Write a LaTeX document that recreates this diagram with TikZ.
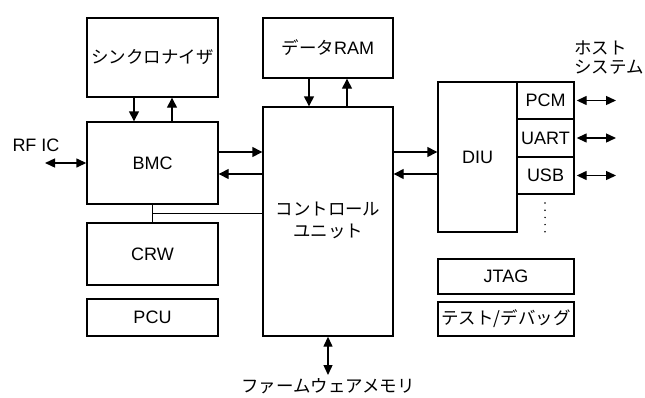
\documentclass[tikz,border=0pt]{standalone}
\usepackage{fontspec}
\setmainfont{Liberation Sans}
\newfontfamily\jp{Noto Sans CJK JP}[Scale=0.97]
\usetikzlibrary{arrows.meta,calc}
\tikzset{
  box/.style={draw,line width=1.4pt,inner sep=0pt,align=center,font=\fontsize{18}{21}\selectfont},
  lbl/.style={inner sep=0pt,align=left,font=\fontsize{18}{21}\selectfont},
  conn/.style={line width=1.4pt,-{Triangle[length=10pt,width=10pt]}},
  dconn/.style={line width=1.4pt,{Triangle[length=10pt,width=9pt]}-{Triangle[length=10pt,width=9pt]}},
  plain/.style={line width=1.4pt}
}
\begin{document}
\begin{tikzpicture}[x=1pt,y=-1pt]
\useasboundingbox (0,0) rectangle (645,397);
% left column
\node[box,minimum width=131pt,minimum height=79pt] (sync) at (152.5,57.5) {\jp シンクロナイザ};
\node[box,minimum width=131pt,minimum height=82pt] (bmc) at (152.5,163) {BMC};
\node[box,minimum width=131pt,minimum height=62pt] (crw) at (152.5,254) {CRW};
\node[box,minimum width=131pt,minimum height=37pt] (pcu) at (152.5,317.5) {PCU};
% middle column
\node[box,minimum width=130pt,minimum height=60pt] (ram) at (328,48) {{\jp データ}RAM};
\node[box,minimum width=130pt,minimum height=229pt] (cu) at (328,221.5) {};
\node[lbl,align=center] (cut) at (328,220) {\jp コントロール\\[1pt]\jp ユニット};
% right column
\node[box,minimum width=79pt,minimum height=150pt] (diu) at (477.5,157) {DIU};
\node[box,minimum width=57pt,minimum height=37pt] (pcm) at (545.5,100.5) {PCM};
\node[box,minimum width=57pt,minimum height=38pt] (uart) at (545.5,138) {UART};
\node[box,minimum width=57pt,minimum height=37pt] (usb) at (545.5,175.5) {USB};
\node[box,minimum width=136pt,minimum height=35pt] (jtag) at (506,276.5) {JTAG};
\node[box,minimum width=136pt,minimum height=34pt] (test) at (506,319) {\jp テスト/デバッグ};
% labels
\node[lbl] (rfic) at (36,145) {RF IC};
\node[lbl,anchor=west] (host) at (574,58) {\jp ホスト\\[-2pt]\jp システム};
\node[lbl] (fwl) at (328,386) {\jp ファームウェアメモリ};
% free ends
\coordinate (rf) at (45,163);
\coordinate (h1) at (616,100.5);
\coordinate (h2) at (616,138);
\coordinate (h3) at (616,175.5);
\coordinate (fw) at (328,375);
\coordinate (d1) at (545,203);
\coordinate (d2) at (545,233);
% connectors
\draw[conn] ([xshift=-18.5pt]sync.south) -- ([xshift=-18.5pt]bmc.north);
\draw[conn] ([xshift=19.5pt]bmc.north) -- ([xshift=19.5pt]sync.south);
\draw[conn] ([xshift=-19pt]ram.south) -- ([xshift=-19pt]cu.north);
\draw[conn] ([xshift=19pt]cu.north) -- ([xshift=19pt]ram.south);
\draw[conn] ([yshift=11pt]bmc.east) -- ([yshift=11pt]bmc.east -| cu.west);
\draw[conn] ([yshift=-11pt]bmc.east -| cu.west) -- ([yshift=-11pt]bmc.east);
\draw[conn] ([yshift=11pt]bmc.east -| cu.east) -- ([yshift=11pt]bmc.east -| diu.west);
\draw[conn] ([yshift=-11pt]bmc.east -| diu.west) -- ([yshift=-11pt]bmc.east -| cu.east);
\draw[dconn] (rf) -- (bmc.west);
\draw[dconn,shorten <=2pt] (pcm.east) -- (h1);
\draw[dconn,shorten <=2pt] (uart.east) -- (h2);
\draw[dconn,shorten <=2pt] (usb.east) -- (h3);
\draw[dconn] (cu.south) -- (fw);
\draw[plain] (bmc.south) -- (crw.north);
\coordinate (j) at ($(bmc.south)!0.5!(crw.north)$);
\draw[plain] (j) -- (j -| cu.west);
\draw[line width=1.7pt,line cap=round,dash pattern=on 0pt off 7.2pt] (d1) -- (d2);
\end{tikzpicture}
\end{document}
